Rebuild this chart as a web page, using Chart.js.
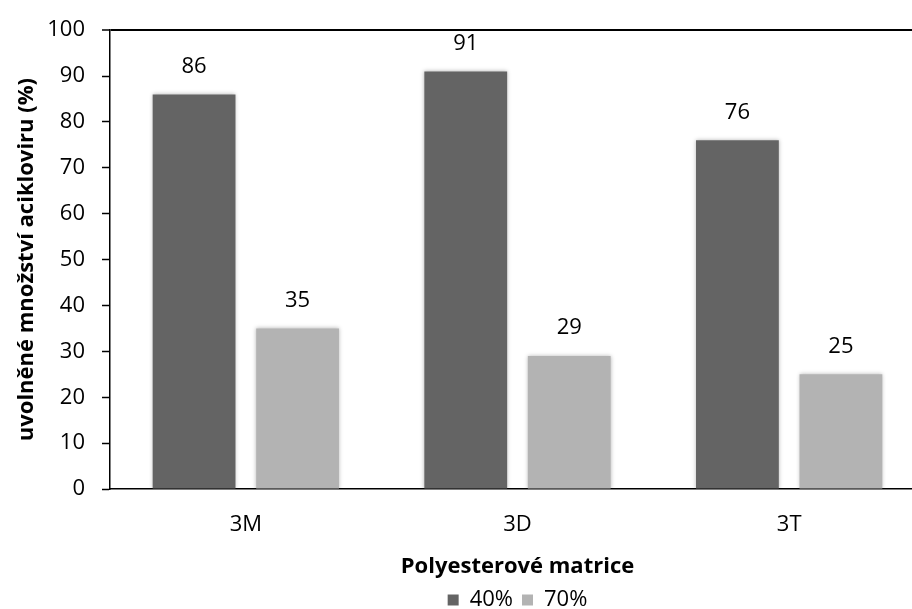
<!DOCTYPE html>
<html>
<head>
<meta charset="utf-8">
<script src="https://cdn.jsdelivr.net/npm/chart.js@4.4.1/dist/chart.umd.min.js"></script>
<style>
  html, body { margin: 0; padding: 0; background: #fff; overflow: hidden; }
  #wrap { position: relative; width: 912px; height: 609px; overflow: hidden; }
</style>
</head>
<body>
<div id="wrap"><canvas id="c" width="940" height="621"></canvas></div>
<script>
const categories = ['3M', '3D', '3T'];
const series40 = [86, 91, 76];
const series70 = [35, 29, 25];
const seriesNames = ['40%', '70%'];
const yTicks = [0, 10, 20, 30, 40, 50, 60, 70, 80, 90, 100];

const FONT = '"Open Sans", "DejaVu Sans", sans-serif';

// Soft halo around the bars
const barHalo = {
  id: 'barHalo',
  beforeDatasetsDraw(chart) {
    const ctx = chart.ctx;
    ctx.save();
    ctx.shadowColor = 'rgba(0,0,0,0.28)';
    ctx.shadowBlur = 4;
    ctx.shadowOffsetX = 0;
    ctx.shadowOffsetY = 0;
  },
  afterDatasetsDraw(chart) {
    chart.ctx.restore();
  }
};

// Value labels above each bar
const valueLabels = {
  id: 'valueLabels',
  afterDatasetsDraw(chart) {
    const ctx = chart.ctx;
    ctx.save();
    ctx.font = '22px ' + FONT;
    ctx.fillStyle = '#000';
    ctx.textAlign = 'center';
    ctx.textBaseline = 'middle';
    chart.data.datasets.forEach((ds, i) => {
      chart.getDatasetMeta(i).data.forEach((bar, j) => {
        ctx.fillText(String(ds.data[j]), bar.x, bar.y - 28);
      });
    });
    ctx.restore();
  }
};

new Chart(document.getElementById('c'), {
  type: 'bar',
  data: {
    labels: categories,
    datasets: [
      { label: seriesNames[0], data: series40, backgroundColor: '#646464', borderWidth: 0 },
      { label: seriesNames[1], data: series70, backgroundColor: '#b3b3b3', borderWidth: 0 }
    ]
  },
  plugins: [barHalo, valueLabels],
  options: {
    responsive: false,
    animation: false,
    events: [],
    categoryPercentage: 0.762,
    barPercentage: 0.80,
    layout: { padding: { top: 26, right: 15, bottom: 0, left: 0 } },
    plugins: {
      tooltip: { enabled: false },
      legend: {
        position: 'bottom',
        fullSize: false,
        labels: {
          color: '#000',
          font: { family: FONT, size: 22 },
          boxWidth: 11,
          boxHeight: 11,
          padding: 9
        }
      }
    },
    scales: {
      x: {
        afterFit(scale) { scale.height = 91; },
        grid: { display: false },
        border: { color: '#000', width: 1.5 },
        ticks: { color: '#000', font: { family: FONT, size: 22 }, padding: 15 },
        title: {
          display: true,
          text: 'Polyesterové matrice',
          color: '#000',
          font: { family: FONT, size: 22, weight: 'bold' },
          padding: { top: 0, bottom: 0 }
        }
      },
      y: {
        min: 0,
        max: 100,
        afterBuildTicks(scale) { scale.ticks = yTicks.map(v => ({ value: v })); },
        afterFit(scale) { scale.width = 110; },
        grid: {
          drawOnChartArea: true,
          color: ctx => (ctx.tick && ctx.tick.value === 100) ? '#000' : 'rgba(0,0,0,0)',
          lineWidth: ctx => (ctx.tick && ctx.tick.value === 100) ? 2 : 1,
          tickColor: '#000',
          tickLength: 8,
          tickWidth: 1.5
        },
        border: { color: '#000', width: 1.5 },
        ticks: { color: '#000', font: { family: FONT, size: 22 }, padding: 17 },
        title: {
          display: true,
          text: 'uvolněné množství acikloviru (%)',
          color: '#000',
          font: { family: FONT, size: 22, weight: 'bold' },
          padding: { top: 14, bottom: 0 }
        }
      }
    }
  }
});
</script>
</body>
</html>
